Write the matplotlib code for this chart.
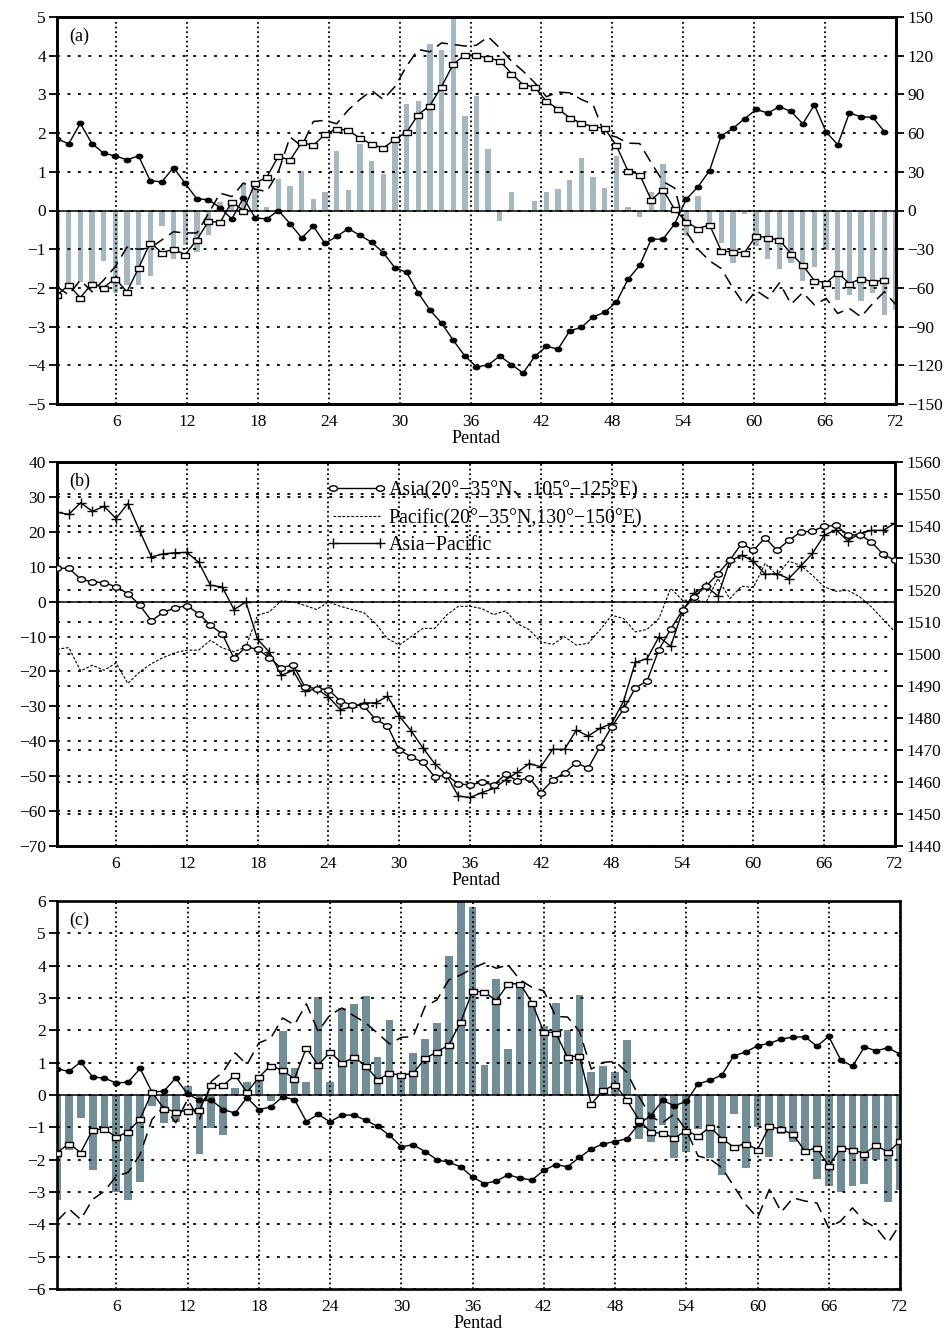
import numpy as np
import matplotlib
matplotlib.use("Agg")
import matplotlib.pyplot as plt
from matplotlib.path import Path

plt.rcParams['font.family'] = ['Liberation Serif', 'Noto Sans CJK SC', 'DejaVu Sans']
plt.rcParams['axes.unicode_minus'] = True

# ---------------- data ----------------
pentads73 = np.arange(1, 74)
pentads72 = np.arange(1, 73)
xtick_labels = list(range(6, 73, 6))

# (a) bars (left axis), dashed curve, filled-dot curve, square curve
a_bar = [-2.00, -1.87, -1.84, -1.88, -1.30, -2.14, -1.93, -1.93, -1.68, -0.40, -1.26, -0.89,
         -1.06, -0.63, 0.23, 0.28, 0.71, 0.58, 0.10, 0.82, 0.64, 1.03, 0.30, 0.47,
         1.55, 0.54, 1.73, 1.29, 0.95, 1.83, 2.76, 2.84, 4.29, 4.16, 5.00, 2.45,
         2.97, 1.60, -0.28, 0.47, 0.00, 0.25, 0.48, 0.56, 0.79, 1.36, 0.87, 0.59,
         1.42, 0.09, -0.17, 0.47, 1.21, 0.00, -0.67, 0.38, -0.48, -0.83, -1.36, -0.09,
         -0.93, -1.26, -1.52, -1.36, -1.81, -1.47, -1.02, -2.30, -2.18, -2.33, -2.12, -2.69,
         -2.56]
a_dash = [-1.97, -2.18, -1.80, -2.10, -1.80, -1.45, -0.95, -1.00, -0.97, -0.76, -0.55, -0.58,
          -0.58, -0.08, 0.45, 0.36, 0.71, 0.55, 0.49, 1.00, 1.90, 1.66, 2.30, 2.33,
          2.24, 2.60, 2.87, 3.10, 2.87, 3.20, 3.73, 4.16, 4.10, 4.33, 4.29, 4.25,
          4.27, 4.49, 4.20, 3.86, 3.60, 3.30, 2.94, 3.06, 3.04, 2.87, 2.74, 1.96,
          1.90, 1.74, 1.73, 1.23, 0.75, 0.58, -0.55, -1.00, -1.30, -1.50, -2.00, -2.44,
          -2.07, -2.27, -1.87, -2.42, -2.12, -2.44, -2.27, -2.66, -2.53, -2.75, -2.40, -2.10,
          -2.44]
a_dot = [1.86, 1.72, 2.25, 1.73, 1.48, 1.41, 1.31, 1.41, 0.77, 0.74, 1.11, 0.70,
         0.30, 0.28, 0.07, -0.22, 0.33, -0.19, -0.22, 0.00, -0.34, -0.71, -0.41, -0.85,
         -0.67, -0.47, -0.64, -0.82, -1.09, -1.48, -1.60, -2.13, -2.57, -2.91, -3.35, -3.76,
         -4.04, -3.99, -3.76, -3.98, -4.20, -3.77, -3.51, -3.58, -3.11, -3.02, -2.75, -2.63,
         -2.37, -1.78, -1.42, -0.74, -0.74, -0.35, 0.29, 0.61, 1.03, 1.93, 2.12, 2.37,
         2.61, 2.52, 2.68, 2.56, 2.24, 2.73, 2.03, 1.70, 2.52, 2.42, 2.41, 2.04]
a_sq = [-2.18, -1.93, -2.25, -1.89, -1.99, -1.76, -2.10, -1.49, -0.83, -1.09, -1.00, -1.14,
        -0.76, -0.28, -0.31, 0.23, 0.00, 0.71, 0.86, 1.40, 1.30, 1.76, 1.68, 1.97,
        2.11, 2.07, 1.87, 1.71, 1.61, 1.84, 2.02, 2.48, 2.71, 3.20, 3.78, 4.02,
        4.01, 3.94, 3.87, 3.54, 3.25, 3.19, 2.82, 2.62, 2.40, 2.25, 2.17, 2.12,
        1.68, 1.02, 0.93, 0.27, 0.54, 0.03, -0.29, -0.47, -0.37, -1.04, -1.08, -1.09,
        -0.65, -0.71, -0.76, -1.12, -1.42, -1.81, -1.87, -1.61, -1.89, -1.76, -1.84, -1.80]

# (b) regional means (right axis) and their difference (left axis)
b_asia = [1526.8, 1526.8, 1523.4, 1522.5, 1522.3, 1521.0, 1518.9, 1515.3, 1510.4, 1513.0, 1514.4, 1515.1,
          1512.6, 1509.0, 1506.3, 1498.6, 1502.2, 1501.5, 1498.8, 1495.6, 1496.7, 1489.7, 1489.2, 1488.9,
          1485.3, 1484.1, 1483.7, 1479.6, 1477.5, 1470.0, 1467.9, 1466.1, 1461.6, 1462.2, 1459.4, 1459.1,
          1459.9, 1459.1, 1462.4, 1460.4, 1461.4, 1456.7, 1460.6, 1462.9, 1466.0, 1464.3, 1471.0, 1477.3,
          1482.7, 1489.4, 1491.6, 1501.4, 1507.8, 1513.7, 1517.9, 1521.2, 1525.1, 1529.3, 1534.5, 1532.4,
          1536.3, 1532.4, 1535.5, 1538.1, 1538.4, 1539.9, 1540.2, 1537.1, 1537.3, 1535.0, 1531.1, 1529.3]
b_pacific = [1501.5, 1502.0, 1494.7, 1496.5, 1494.9, 1497.2, 1490.8, 1494.4, 1497.0, 1498.9, 1500.4, 1501.2,
             1501.2, 1504.3, 1501.9, 1500.7, 1502.2, 1512.1, 1513.2, 1516.6, 1516.3, 1515.2, 1513.9, 1516.3,
             1514.9, 1513.9, 1512.9, 1509.5, 1504.8, 1502.8, 1505.4, 1508.0, 1508.0, 1512.1, 1514.9, 1514.9,
             1514.2, 1512.3, 1513.5, 1509.5, 1507.6, 1503.8, 1503.0, 1505.4, 1502.8, 1503.3, 1507.5, 1512.1,
             1511.1, 1506.9, 1507.7, 1511.1, 1520.5, 1516.8, 1516.8, 1516.3, 1523.6, 1517.3, 1521.2, 1520.8,
             1528.3, 1524.6, 1529.0, 1527.7, 1524.6, 1521.0, 1519.6, 1519.9, 1517.9, 1514.7, 1510.8, 1506.9]
b_diff = [25.6, 25.0, 28.3, 25.9, 27.3, 23.8, 28.1, 20.3, 12.8, 13.7, 14.0, 14.1,
          11.3, 4.7, 4.2, -2.3, -0.1, -10.8, -14.5, -21.1, -19.7, -25.6, -25.0, -27.3,
          -30.9, -30.2, -29.0, -29.0, -27.1, -32.8, -37.0, -41.9, -46.4, -49.7, -55.7, -56.1,
          -54.7, -53.5, -51.1, -48.9, -46.4, -47.3, -42.3, -42.3, -36.8, -38.5, -36.3, -34.9,
          -28.5, -17.4, -16.3, -10.1, -12.8, -2.7, 2.5, 4.4, 1.6, 11.6, 13.3, 11.6,
          7.8, 8.0, 6.6, 10.1, 13.8, 19.0, 20.6, 17.4, 19.5, 20.4, 20.4, 22.5]
b_labels = ['Asia(20°−35°N、105°−125°E)', 'Pacific(20°−35°N,130°−150°E)', 'Asia−Pacific']

# (c) bars, dashed curve, filled-dot curve, square curve
c_bar = [-3.25, -1.71, -0.70, -2.31, -1.00, -3.00, -3.25, -2.70, -0.35, -0.88, -0.84, 0.29,
         -1.81, -1.02, -1.23, 0.22, 0.40, 0.47, -0.20, 1.99, 0.83, 0.40, 3.02, 0.40,
         2.69, 2.82, 3.07, 1.19, 2.33, 0.60, 1.30, 1.74, 2.24, 4.30, 6.00, 5.80,
         0.93, 3.60, 1.42, 3.41, 2.86, 2.12, 2.84, 2.02, 3.10, 0.70, 0.91, 0.72,
         1.71, -1.36, -1.46, -0.92, -1.96, -1.77, -1.05, -1.95, -2.47, -0.58, -2.26, -0.99,
         -1.92, -1.20, -1.46, -1.79, -2.59, -2.82, -3.00, -2.82, -2.74, -2.02, -3.31, -2.94]
c_dash = [-3.90, -3.52, -3.85, -3.23, -2.97, -2.51, -2.39, -1.84, -0.76, -0.35, -0.86, -0.14,
          -0.76, 0.42, 0.72, 1.30, 0.94, 1.61, 1.76, 2.38, 2.17, 2.82, 1.97, 2.48,
          2.69, 2.45, 2.23, 1.91, 1.58, 1.78, 1.81, 2.74, 2.94, 3.56, 3.71, 3.92,
          4.08, 3.92, 4.02, 3.56, 3.33, 3.22, 2.43, 2.41, 1.97, 0.80, 1.01, 1.04,
          0.70, -0.04, -0.66, -0.86, -0.58, -1.09, -1.89, -1.98, -2.25, -2.82, -3.39, -3.80,
          -2.92, -3.62, -3.18, -3.28, -3.34, -4.11, -3.90, -3.49, -3.90, -4.11, -4.57, -4.00]
c_dot = [0.81, 0.73, 1.02, 0.56, 0.52, 0.37, 0.40, 0.82, 0.09, 0.12, 0.52, 0.03,
         -0.16, -0.16, -0.45, -0.56, -0.08, -0.45, -0.37, -0.06, -0.14, -0.82, -0.60, -0.83,
         -0.62, -0.62, -0.78, -0.97, -1.25, -1.60, -1.54, -1.75, -2.00, -2.08, -2.22, -2.54,
         -2.74, -2.66, -2.47, -2.57, -2.63, -2.33, -2.15, -2.22, -1.93, -1.67, -1.51, -1.44,
         -1.35, -0.90, -0.64, -0.17, -0.33, -0.20, 0.35, 0.45, 0.62, 1.21, 1.33, 1.52,
         1.60, 1.73, 1.79, 1.80, 1.51, 1.81, 1.09, 0.89, 1.48, 1.37, 1.46, 1.26]
c_sq = [-1.79, -1.50, -1.78, -1.07, -1.05, -1.31, -1.13, -0.74, 0.09, -0.42, -0.52, -0.48,
        -0.45, 0.30, 0.30, 0.61, 0.08, 0.55, 0.91, 0.76, 0.50, 1.46, 0.92, 1.33,
        0.98, 1.16, 0.91, 0.47, 0.67, 0.61, 0.67, 1.13, 1.33, 1.55, 2.26, 3.22,
        3.18, 2.92, 3.44, 3.44, 2.86, 1.95, 1.93, 1.16, 1.22, -0.28, 0.14, 0.32,
        -0.16, -0.76, -1.15, -1.19, -1.33, -1.10, -1.28, -0.99, -1.35, -1.61, -1.50, -1.69,
        -0.97, -1.06, -1.22, -1.74, -1.63, -2.20, -1.63, -1.69, -1.81, -1.56, -1.77, -1.43]

# ---------------- styles ----------------
FS = 12.5
rect_marker = Path([(-1, -0.6), (1, -0.6), (1, 0.6), (-1, 0.6), (-1, -0.6)],
                   [Path.MOVETO, Path.LINETO, Path.LINETO, Path.LINETO, Path.CLOSEPOLY])
_c = Path.unit_circle()
ellipse_marker = Path(_c.vertices * np.array([1.0, 0.68]), _c.codes)

HGRID = dict(color='black', linewidth=1.3, linestyle=(0, (1.6, 4.2)))
VGRID = dict(color='black', linewidth=1.3, linestyle=(0, (1.0, 1.6)))

dot_kw = dict(color='black', lw=1.0, marker=ellipse_marker, ms=4.6, mfc='black', mec='black', zorder=4)
sq_kw = dict(color='black', lw=1.0, marker=rect_marker, ms=6.0, mfc='white', mec='black', mew=1.0, zorder=5)
dash_kw = dict(color='black', lw=1.1, ls=(0, (8, 4.5)), zorder=3)


def frame(ax, xlim, xticks):
    ax.set_xlim(*xlim)
    ax.set_xticks(xticks)
    ax.set_xticklabels([str(v) for v in xtick_labels])
    for s in ax.spines.values():
        s.set_linewidth(1.9)
    ax.tick_params(axis='x', length=0, pad=7, labelsize=FS)
    ax.tick_params(axis='y', direction='out', length=6, width=1.3, labelsize=FS, pad=2)
    ax.xaxis.grid(True, **VGRID)
    ax.yaxis.grid(True, **HGRID)
    ax.set_axisbelow('line')
    ax.set_xlabel('Pentad', fontsize=FS + 0.5, labelpad=0)


W, H = 953, 1338
fig = plt.figure(figsize=(W / 100, H / 100), dpi=100)

# ---------------- panel (a) ----------------
ax_a = fig.add_axes([57 / W, 1 - 404 / H, 839 / W, 387 / H])
ax_a.bar(pentads73, a_bar, width=0.46, color='#a3b8c0', zorder=1)
ax_a.axhline(0, color='black', lw=1.1, zorder=1.8)
ax_a.plot(pentads73, a_dash, **dash_kw)
ax_a.plot(pentads72, a_dot, **dot_kw)
ax_a.plot(pentads72, a_sq, **sq_kw)
ax_a.set_ylim(-5, 5)
ax_a.set_yticks(range(-5, 6))
frame(ax_a, (1, 73), 1 + (np.array(xtick_labels) - 1) * 72 / 71)
ax_a.text(0.015, 0.95, '(a)', transform=ax_a.transAxes, fontsize=FS + 0.5, va='center')
ax_a2 = ax_a.twinx()
ax_a2.set_ylim(-150, 150)
ax_a2.set_yticks(range(-150, 151, 30))
ax_a2.tick_params(axis='y', direction='out', length=6, width=1.3, labelsize=FS, pad=2)
for s in ax_a2.spines.values():
    s.set_linewidth(1.9)

# ---------------- panel (b) ----------------
ax_b = fig.add_axes([57 / W, 1 - 846 / H, 838 / W, 384 / H])
ax_b.axhline(0, color='black', lw=1.1, zorder=1.8)
l_diff, = ax_b.plot(pentads72, b_diff, color='black', lw=1.0, marker='+', ms=6.5, mew=1.0, zorder=4)
ax_b.set_ylim(-70, 40)
ax_b.set_yticks(range(-70, 41, 10))
frame(ax_b, (1, 72), xtick_labels)
ax_b.text(0.015, 0.95, '(b)', transform=ax_b.transAxes, fontsize=FS + 0.5, va='center')
ax_b2 = ax_b.twinx()
l_asia, = ax_b2.plot(pentads72, b_asia, color='black', lw=1.0, marker=ellipse_marker, ms=5.8,
                     mfc='white', mec='black', mew=1.0, zorder=4)
l_pac, = ax_b2.plot(pentads72, b_pacific, color='black', lw=0.8, ls=(0, (2.5, 1.5)), zorder=3)
ax_b2.set_ylim(1440, 1560)
ax_b2.set_yticks(range(1440, 1561, 10))
ax_b2.yaxis.grid(True, **HGRID)
ax_b2.tick_params(axis='y', direction='out', length=6, width=1.3, labelsize=FS, pad=2)
for s in ax_b2.spines.values():
    s.set_linewidth(1.9)
ax_b2.legend([l_asia, l_pac, l_diff], b_labels, numpoints=2, frameon=False,
             loc='upper left', bbox_to_anchor=(0.322, 0.951), borderaxespad=0, borderpad=0,
             handlelength=3.0, handletextpad=0.1, labelspacing=0.42, fontsize=FS + 1.8)

# ---------------- panel (c) ----------------
ax_c = fig.add_axes([57 / W, 1 - 1289 / H, 843 / W, 388 / H])
ax_c.bar(pentads72, c_bar, width=0.66, color='#6f8e96', zorder=1)
ax_c.axhline(0, color='black', lw=1.1, zorder=1.8)
ax_c.plot(pentads72, c_dash, **dash_kw)
ax_c.plot(pentads72, c_dot, **dot_kw)
ax_c.plot(pentads72, c_sq, **sq_kw)
ax_c.set_ylim(-6, 6)
ax_c.set_yticks(range(-6, 7))
frame(ax_c, (1, 72), xtick_labels)
ax_c.text(0.015, 0.95, '(c)', transform=ax_c.transAxes, fontsize=FS + 0.5, va='center')

fig.savefig('out.png', dpi=100)
